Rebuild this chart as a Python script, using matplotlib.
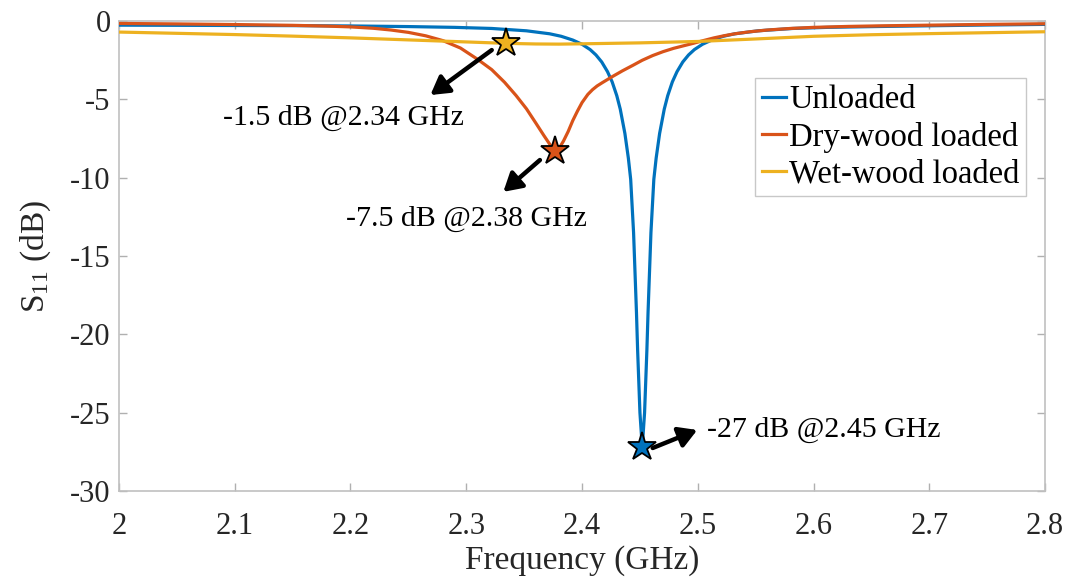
import matplotlib
matplotlib.use("Agg")
import matplotlib.pyplot as plt

# ---------------- data ----------------
freq_unloaded = [2.00, 2.05, 2.10, 2.15, 2.20, 2.25, 2.29, 2.322, 2.352, 2.372, 2.382, 2.392,
                 2.400, 2.407, 2.412, 2.417, 2.422, 2.426, 2.430, 2.433, 2.437, 2.440,
                 2.442, 2.4445, 2.447, 2.448, 2.450, 2.452, 2.454, 2.456, 2.457, 2.4595,
                 2.462, 2.464, 2.467, 2.471, 2.474, 2.478, 2.482, 2.487, 2.492, 2.497,
                 2.504, 2.512, 2.522, 2.532, 2.552, 2.582, 2.612, 2.652, 2.70, 2.75, 2.80]
s11_unloaded = [-0.26, -0.27, -0.28, -0.29, -0.31, -0.35, -0.40, -0.47, -0.62, -0.81, -0.97, -1.21,
                -1.48, -1.82, -2.16, -2.61, -3.23, -3.88, -4.76, -5.62, -7.17, -8.75,
                -10.1, -13.5, -18.6, -21.0, -25.0, -27.2, -25.0, -21.0, -18.6, -13.5,
                -10.1, -8.75, -7.17, -5.62, -4.76, -3.88, -3.23, -2.61, -2.16, -1.82,
                -1.48, -1.21, -0.97, -0.81, -0.62, -0.47, -0.40, -0.35, -0.30, -0.25, -0.21]

freq_dry = [2.00, 2.05, 2.10, 2.15, 2.18, 2.20, 2.22, 2.235, 2.25, 2.265, 2.28, 2.295,
            2.31, 2.322, 2.333, 2.343, 2.352, 2.36, 2.367, 2.372, 2.375, 2.377, 2.380,
            2.384, 2.388, 2.392, 2.396, 2.400, 2.405, 2.409, 2.413, 2.4175, 2.426, 2.435,
            2.444, 2.452, 2.461, 2.470, 2.479, 2.488, 2.496, 2.505, 2.514, 2.523,
            2.532, 2.545, 2.56, 2.58, 2.60, 2.63, 2.66, 2.70, 2.75, 2.80]
s11_dry = [-0.15, -0.18, -0.22, -0.27, -0.32, -0.37, -0.46, -0.57, -0.72, -0.94, -1.25, -1.72,
           -2.45, -3.1, -3.9, -4.75, -5.6, -6.5, -7.3, -7.85, -8.18, -8.3, -8.15,
           -7.65, -7.05, -6.35, -5.75, -5.2, -4.68, -4.38, -4.14, -3.93, -3.55, -3.17,
           -2.82, -2.5, -2.2, -1.95, -1.74, -1.57, -1.42, -1.24, -1.07, -0.93,
           -0.81, -0.68, -0.57, -0.47, -0.40, -0.34, -0.30, -0.26, -0.21, -0.17]

freq_wet = [2.00, 2.05, 2.10, 2.15, 2.20, 2.25, 2.30, 2.334, 2.36, 2.38, 2.40, 2.45,
            2.50, 2.55, 2.60, 2.65, 2.70, 2.75, 2.80]
s11_wet = [-0.70, -0.78, -0.86, -0.96, -1.07, -1.20, -1.33, -1.42, -1.46, -1.47, -1.45, -1.39,
           -1.30, -1.14, -0.97, -0.87, -0.80, -0.74, -0.68]

series_names = ["Unloaded", "Dry-wood loaded", "Wet-wood loaded"]
series_colors = ["#0072BD", "#D95319", "#EDB120"]

# marked points (frequency, S11) and their annotation texts
mark_freq = [2.452, 2.377, 2.334]
mark_s11 = [-27.2, -8.3, -1.42]
mark_texts = ["-27 dB @2.45 GHz", "-7.5 dB @2.38 GHz", "-1.5 dB @2.34 GHz"]

x_ticks = [2.0, 2.1, 2.2, 2.3, 2.4, 2.5, 2.6, 2.7, 2.8]
x_tick_labels = ["2", "2.1", "2.2", "2.3", "2.4", "2.5", "2.6", "2.7", "2.8"]
y_ticks = [-30, -25, -20, -15, -10, -5, 0]

# ---------------- style ----------------
plt.rcParams["font.family"] = ["Liberation Serif", "DejaVu Serif"]
plt.rcParams["mathtext.fontset"] = "custom"
plt.rcParams["mathtext.rm"] = "Liberation Serif"
plt.rcParams["mathtext.it"] = "Liberation Serif:italic"
plt.rcParams["axes.unicode_minus"] = False

fig = plt.figure(figsize=(10.91, 5.86), dpi=100)
ax = fig.add_axes([0.109, 0.162, 0.849, 0.802])

xs = [freq_unloaded, freq_dry, freq_wet]
ys = [s11_unloaded, s11_dry, s11_wet]
for fx, sy, name, c in zip(xs, ys, series_names, series_colors):
    ax.plot(fx, sy, color=c, lw=2.3, label=name, zorder=3, solid_joinstyle="round")

for fx, sy, c in zip(mark_freq, mark_s11, series_colors):
    ax.plot([fx], [sy], marker="*", ms=21, mfc=c, mec="black", mew=1.3,
            linestyle="none", zorder=5)

arrow_kw = dict(arrowstyle="-|>,head_length=0.6,head_width=0.35", color="black",
                lw=3.2, mutation_scale=18, shrinkA=0, shrinkB=0)
# unloaded
ax.annotate("", xy=(2.4995, -26.1), xytext=(2.461, -27.25), arrowprops=arrow_kw, zorder=6)
ax.text(2.508, -26.1, mark_texts[0], fontsize=21.5, ha="left", va="center")
# dry wood
ax.annotate("", xy=(2.332, -10.9), xytext=(2.3636, -8.87), arrowprops=arrow_kw, zorder=6)
ax.text(2.300, -12.6, mark_texts[1], fontsize=21.5, ha="center", va="center")
# wet wood
ax.annotate("", xy=(2.269, -4.72), xytext=(2.322, -1.85), arrowprops=arrow_kw, zorder=6)
ax.text(2.194, -6.2, mark_texts[2], fontsize=21.5, ha="center", va="center")

ax.set_xlim(2.0, 2.8)
ax.set_ylim(-30, 0)
ax.set_xticks(x_ticks)
ax.set_xticklabels(x_tick_labels)
ax.set_yticks(y_ticks)
ax.set_yticklabels([str(v) for v in y_ticks])
ax.tick_params(direction="in", length=6, width=1, color="#b0b0b0",
               labelsize=22, top=True, right=True, labelcolor="#262626")
ax.tick_params(axis="x", pad=15)
ax.tick_params(axis="y", pad=6)
for s in ax.spines.values():
    s.set_color("#c0c0c0")
    s.set_linewidth(1.2)

ax.set_xlabel("Frequency (GHz)", fontsize=24, color="#262626", labelpad=3)
ax.set_ylabel(r"S$_{\mathrm{11}}$ (dB)", fontsize=24, color="#262626", labelpad=12)

leg = ax.legend(loc="upper right", bbox_to_anchor=(0.9795, 0.879), fontsize=23.5,
                frameon=True, fancybox=False, edgecolor="#c8c8c8", framealpha=1,
                handlelength=0.74, handletextpad=0.1, borderpad=0.2, labelspacing=0.2,
                borderaxespad=0)
leg.get_frame().set_linewidth(1.0)

fig.savefig("out.png", dpi=100)
